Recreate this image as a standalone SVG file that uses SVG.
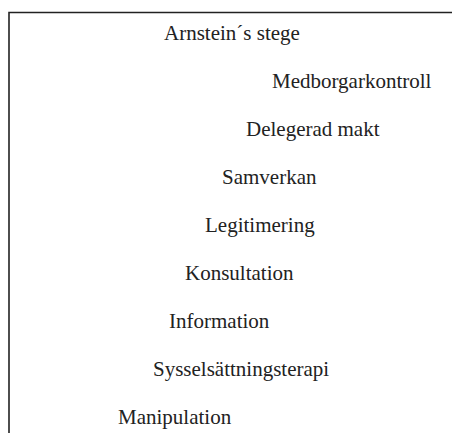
<svg xmlns="http://www.w3.org/2000/svg" width="452" height="435" viewBox="0 0 452 435">
<style>
text{font-family:"Liberation Serif","Times New Roman",serif;font-size:21px;fill:#222}
.frame{fill:none;stroke:#222;stroke-width:1.6}
</style>
<rect width="452" height="435" fill="#fff"/>
<g id="frame"><path class="frame" d="M9,433 V12.5 H452"/></g>
<g id="title"><text x="164" y="40">Arnstein´s stege</text></g>
<g id="medborgarkontroll"><text x="272" y="88">Medborgarkontroll</text></g>
<g id="delegerad-makt"><text x="246" y="136">Delegerad makt</text></g>
<g id="samverkan"><text x="222" y="184">Samverkan</text></g>
<g id="legitimering"><text x="205" y="232">Legitimering</text></g>
<g id="konsultation"><text x="185" y="280">Konsultation</text></g>
<g id="information"><text x="169" y="328">Information</text></g>
<g id="sysselsattningsterapi"><text x="153" y="376">Sysselsättningsterapi</text></g>
<g id="manipulation"><text x="118" y="424">Manipulation</text></g>
<g id="connectors"></g>
</svg>
